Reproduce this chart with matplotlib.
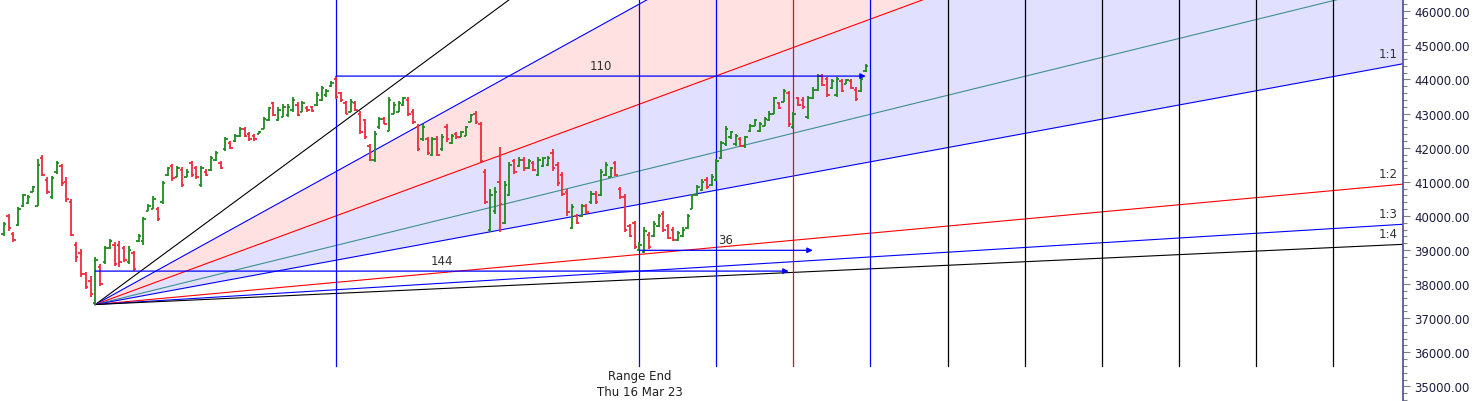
import matplotlib
matplotlib.use('Agg')
import matplotlib.pyplot as plt
import numpy as np
from matplotlib.ticker import MultipleLocator, FormatStrFormatter

# ---------------- data (daily OHLC bars, index 0..179) ----------------
highs = [39810, 40045, 39520, 40250, 40630, 40600, 40870, 41660, 41800, 41130,
         41160, 41600, 41510, 41130, 40490, 39230, 39020, 38350, 38230, 38780,
         38580, 39110, 39310, 39220, 39250, 39110, 39110, 38960, 39460, 39960,
         40340, 40580, 40250, 41010, 41420, 41510, 41450, 41420, 41370, 41600,
         41450, 41450, 41370, 41750, 41890, 41600, 42300, 42190, 42400, 42600,
         42600, 42450, 42400, 42480, 42890, 43180, 43330, 43180, 43270, 43270,
         43480, 43330, 43360, 43210, 43210, 43620, 43800, 43710, 43950, 44100,
         43620, 43360, 43420, 43360, 43070, 42830, 42100, 42480, 42890, 42890,
         43480, 43330, 43360, 43480, 43480, 43130, 42680, 42680, 42300, 42300,
         42330, 42390, 42680, 42390, 42450, 42480, 42630, 42980, 43070, 42740,
         41370, 40780, 40840, 42010, 41010, 41570, 41660, 41720, 41720, 41660,
         41600, 41720, 41720, 41750, 41950, 41570, 41280, 40780, 40340, 40050,
         40340, 40340, 40720, 40720, 41370, 41570, 41420, 41600, 40840, 40630,
         39750, 39840, 39220, 39660, 39520, 39840, 40050, 40130, 39750, 39660,
         39550, 39660, 40050, 40630, 40900, 41070, 41130, 41220, 41660, 42190,
         42630, 42480, 42390, 42300, 42330, 42680, 42830, 42740, 42890, 43070,
         43480, 43330, 43710, 43650, 43040, 43480, 43480, 43510, 43770, 44150,
         44150, 44060, 44000, 44060, 44000, 44000, 44000, 43770, 44060, 44450]
lows = [39400, 39550, 39230, 39700, 40250, 40340, 40690, 40280, 41160, 40630,
        40490, 41220, 40870, 40400, 39400, 38640, 38200, 37850, 37610, 37400,
        37930, 38580, 39020, 38520, 38490, 38640, 38580, 38370, 39220, 39160,
        40130, 40190, 39840, 40340, 41160, 41010, 41130, 40840, 41130, 41130,
        41070, 40840, 41160, 41310, 41600, 41370, 41890, 41950, 42160, 42300,
        42300, 42190, 42190, 42390, 42540, 42770, 42920, 42770, 42890, 42890,
        43040, 42920, 43040, 43040, 43040, 43210, 43360, 43500, 43770, 43420,
        43330, 42980, 43040, 43070, 42390, 42250, 41600, 41570, 42540, 42680,
        42480, 42980, 43040, 43210, 42920, 42680, 41890, 42190, 41800, 41750,
        41750, 41890, 42160, 42100, 42250, 42300, 42330, 42740, 42690, 41570,
        40340, 39520, 40050, 39520, 39750, 40570, 41220, 41420, 41310, 41370,
        41310, 41160, 41420, 41450, 41310, 40870, 40570, 39990, 39610, 39750,
        39960, 40050, 40340, 40340, 40570, 41160, 41130, 41160, 40490, 39520,
        39370, 39020, 38990, 38900, 39020, 39370, 39660, 39520, 39310, 39250,
        39250, 39370, 39610, 40190, 40570, 40720, 40780, 40870, 41010, 41660,
        42040, 42250, 42040, 42010, 41990, 42450, 42630, 42450, 42630, 42770,
        42980, 43130, 43330, 42600, 42540, 43210, 43130, 42830, 43420, 43650,
        43800, 43480, 43710, 43500, 43620, 43860, 43710, 43360, 43620, 44210]
opens = [39460, 40000, 39470, 39720, 40300, 40380, 40700, 40300, 41700, 41050,
         40550, 41300, 41450, 41000, 40400, 39150, 38900, 38300, 38100, 37450,
         38500, 38650, 39050, 39150, 39150, 39050, 38650, 38900, 39250, 39250,
         40150, 40200, 40200, 40400, 41200, 41450, 41150, 41350, 41150, 41550,
         41400, 40900, 41300, 41350, 41650, 41550, 41950, 42150, 42200, 42350,
         42550, 42400, 42350, 42400, 42550, 42800, 43300, 42800, 42900, 42950,
         43100, 43250, 43050, 43150, 43180, 43250, 43400, 43550, 43800, 44000,
         43600, 43300, 43050, 43300, 43000, 42800, 42050, 41650, 42600, 42850,
         42500, 43000, 43050, 43250, 43400, 43050, 42600, 42250, 42250, 41800,
         42250, 41950, 42600, 42150, 42400, 42320, 42350, 42750, 43000, 42700,
         41300, 39600, 40150, 41000, 39800, 40600, 41600, 41450, 41650, 41400,
         41550, 41200, 41450, 41500, 41850, 41500, 41200, 40700, 39650, 40000,
         40000, 40300, 40400, 40650, 40600, 41200, 41150, 41550, 40800, 40550,
         39700, 39800, 39000, 38950, 39450, 39400, 39700, 40050, 39700, 39600,
         39300, 39400, 39650, 40200, 40600, 40750, 41050, 40900, 41050, 41700,
         42100, 42300, 42100, 42250, 42050, 42480, 42650, 42500, 42650, 42800,
         43000, 43300, 43350, 43600, 42600, 43450, 43400, 42900, 43450, 43700,
         44100, 44000, 43750, 43550, 43950, 43880, 43950, 43700, 43650, 44250]
closes = [39750, 39650, 39300, 40200, 40600, 40550, 40850, 41500, 41200, 40700,
          41100, 41550, 40950, 40500, 39450, 38800, 38300, 37900, 37700, 38700,
          38000, 39050, 39250, 38600, 38650, 38700, 39000, 38450, 39400, 39900,
          40300, 40500, 39900, 40950, 41400, 41100, 41400, 40900, 41300, 41200,
          41150, 41400, 41200, 41700, 41850, 41400, 42250, 42000, 42350, 42550,
          42350, 42250, 42250, 42450, 42850, 43150, 42950, 43100, 43200, 43200,
          43400, 42950, 43300, 43100, 43080, 43550, 43750, 43650, 43900, 43500,
          43400, 43000, 43350, 43100, 42450, 42300, 41650, 42400, 42850, 42700,
          43400, 43250, 43300, 43450, 43000, 42750, 41950, 42600, 41850, 42250,
          41800, 42300, 42250, 42350, 42300, 42450, 42600, 42950, 42750, 41620,
          40400, 40600, 40700, 40350, 40900, 41500, 41300, 41650, 41400, 41600,
          41350, 41650, 41700, 41700, 41400, 40950, 40650, 40100, 40250, 39800,
          40300, 40100, 40650, 40400, 41300, 41500, 41400, 41200, 40550, 39600,
          39400, 39100, 39150, 39550, 39100, 39750, 40000, 39600, 39350, 39300,
          39500, 39600, 40000, 40600, 40850, 41000, 40850, 41150, 41600, 42150,
          42550, 42450, 42350, 42050, 42300, 42650, 42800, 42700, 42850, 43000,
          43450, 43150, 43650, 42700, 43000, 43250, 43200, 43450, 43700, 44100,
          43850, 43550, 43950, 44000, 43650, 43980, 43750, 43420, 44000, 44400]

# Gann fan
fan_origin_bar = 19
fan_origin_price = 37400
fan_unit = 26.0                      # points per bar for the 1:1 line
fan_ratios = [4, 3, 2, 4 / 3, 1, 1 / 2, 1 / 3, 1 / 4]
fan_colors = ['black', 'blue', 'red', '#3f8f8f', 'blue', 'red', 'blue', 'black']
fan_labels = ['', '', '', '', '1:1', '1:2', '1:3', '1:4']

# time lines
vline_bars = [69, 132, 148, 164, 180, 196, 212, 228, 244, 260, 276]
vline_colors = ['blue', 'blue', 'blue', 'red', 'blue',
                'black', 'black', 'black', 'black', 'black', 'black']

# range arrows: (start bar, end bar, price, label)
arrows = [(19, 163, 38380, '144'),
          (69, 179, 44100, '110'),
          (132, 168, 38990, '36')]

range_end_bar = 132
range_end_text = 'Range End\nThu 16 Mar 23'

# ---------------- figure ----------------
W, H = 1476, 402
fig = plt.figure(figsize=(W / 100, H / 100), dpi=100)
ax = fig.add_axes([0, 0, 1403 / W, 1])
x_min, x_max = -0.8, 290.6
ax.set_xlim(x_min, x_max)
ax.set_ylim(34570, 46361)

# fan
xf = np.linspace(fan_origin_bar, x_max + 5, 400)
fan_y = [fan_origin_price + r * fan_unit * (xf - fan_origin_bar) for r in fan_ratios]
ax.fill_between(xf, fan_y[1], fan_y[2], color='#ffe1e1', lw=0, zorder=1)
ax.fill_between(xf, fan_y[2], fan_y[4], color='#e1e1ff', lw=0, zorder=1)
for yv, c in zip(fan_y, fan_colors):
    ax.plot(xf, yv, color=c, lw=0.8, zorder=2)

# fan ratio labels at right edge
for r, lab in zip(fan_ratios, fan_labels):
    if lab:
        yr = fan_origin_price + r * fan_unit * (x_max - fan_origin_bar)
        ax.annotate(lab, (x_max, yr), xytext=(-4, 3), textcoords='offset points',
                    ha='right', va='bottom', fontsize=8.5, color='#303030', zorder=6)

# vertical time lines
vl_bottom = 1 - 367 / H
for b, c in zip(vline_bars, vline_colors):
    ax.axvline(b, ymin=vl_bottom, ymax=1, color=c, lw=0.9, zorder=3)

# OHLC bars
idx = np.arange(len(highs))
o = np.array(opens); c_ = np.array(closes)
colors = np.where(c_ >= o, '#1f8a1f', '#ee2b3b')
tick = 0.5
ax.vlines(idx, lows, highs, colors=colors, lw=1.3, zorder=4)
ax.hlines(opens, idx - tick, idx, colors=colors, lw=1.3, zorder=4)
ax.hlines(closes, idx, idx + tick, colors=colors, lw=1.3, zorder=4)

# range arrows
for s, e, p, lab in arrows:
    ax.annotate('', xy=(e, p), xytext=(s, p),
                arrowprops=dict(arrowstyle='-|>', color='blue', lw=0.9,
                                mutation_scale=8, shrinkA=0, shrinkB=0),
                zorder=5)
    ax.annotate(lab, ((s + e) / 2, p), xytext=(0, 3), textcoords='offset points',
                ha='center', va='bottom', fontsize=8.5, color='#303030', zorder=6)

# range end label
ax.text(range_end_bar, 1 - 385 / H, range_end_text, transform=ax.get_xaxis_transform(),
        ha='center', va='center', fontsize=8.5, color='#202020', linespacing=1.3)

# axes styling
for side in ['left', 'top', 'bottom']:
    ax.spines[side].set_visible(False)
ax.spines['right'].set_color('#4a4a90')
ax.spines['right'].set_linewidth(1.2)
ax.set_xticks([])
ax.yaxis.tick_right()
ax.yaxis.set_major_locator(MultipleLocator(1000))
ax.yaxis.set_minor_locator(MultipleLocator(200))
ax.yaxis.set_major_formatter(FormatStrFormatter('%.2f'))
ax.tick_params(axis='y', which='major', length=5, width=0.8, color='#808080',
               labelsize=8.5, labelcolor='#1c1c3c', pad=3)
ax.tick_params(axis='y', which='minor', length=3, width=0.8, color='#808080')

fig.savefig('out.png', dpi=100)
